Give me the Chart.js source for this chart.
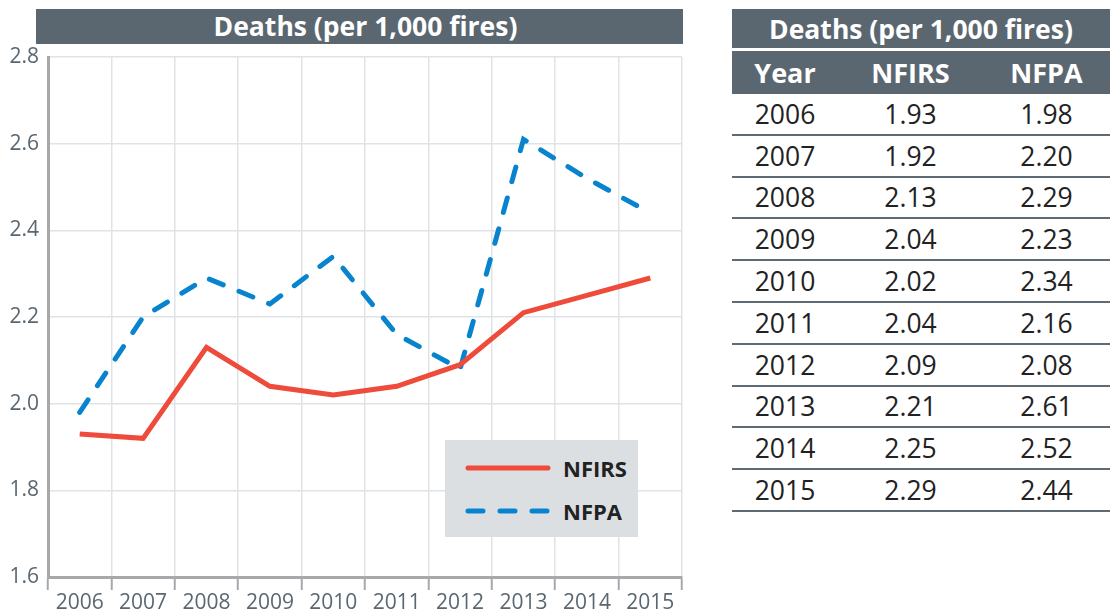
<!DOCTYPE html>
<html>
<head>
<meta charset="utf-8">
<script src="https://cdn.jsdelivr.net/npm/chart.js@4"></script>
<style>
  body { margin: 0; background: #fff; font-family: "Open Sans", sans-serif; }
  #wrap { position: relative; width: 1110px; height: 613px; overflow: hidden; }
  #chart { position: absolute; left: 0; top: 0; }
  .bar { position: absolute; background: #5b6770; color: #fff; font-weight: bold; text-align: center; box-sizing: border-box; }
  #chartTitle { left: 36px; top: 9px; width: 647px; height: 35px; line-height: 35px; font-size: 26.5px; padding-left: 12px; }
  #legend { position: absolute; left: 445px; top: 440px; width: 193px; height: 97px; background: #dcdfe2; }
  #legend .item { position: absolute; left: 18px; height: 26px; display: flex; align-items: center;
    font-weight: bold; font-size: 22px; color: #222; }
  #legend svg { margin-right: 10px; }
  #tbl { position: absolute; left: 732px; top: 9px; width: 378px; border-collapse: collapse; }
  #tbl td { padding: 0; text-align: center; font-size: 26.5px; color: #222; }
  #tbl tr.t td { background: #5b6770; color: #fff; font-weight: bold; height: 39px; border-bottom: 3px solid #fff; }
  #tbl tr.h td { background: #5b6770; color: #fff; font-weight: bold; height: 43px; font-size: 27px; }
  #tbl tr.d td { height: 39.8px; border-bottom: 2.6px solid #5f6b74; }
</style>
</head>
<body>
<div id="wrap">
  <div id="chartTitle" class="bar">Deaths (per 1,000 fires)</div>
  <canvas id="chart" width="700" height="613"></canvas>
  <div id="legend"></div>
  <table id="tbl"></table>
</div>
<script>
const years = ['2006', '2007', '2008', '2009', '2010', '2011', '2012', '2013', '2014', '2015'];
const nfirs = [1.93, 1.92, 2.13, 2.04, 2.02, 2.04, 2.09, 2.21, 2.25, 2.29];
const nfpa = [1.98, 2.20, 2.29, 2.23, 2.34, 2.16, 2.08, 2.61, 2.52, 2.44];
const tableTitle = 'Deaths (per 1,000 fires)';
const tableHeads = ['Year', 'NFIRS', 'NFPA'];

const red = '#ee4b3b';
const blue = '#0884cf';
const gray = '#5b6770';

// table
const tbl = document.getElementById('tbl');
let html = '<colgroup><col style="width:106px"><col style="width:145px"><col style="width:127px"></colgroup>';
html += '<tr class="t"><td colspan="3">' + tableTitle + '</td></tr>';
html += '<tr class="h">' + tableHeads.map(h => '<td>' + h + '</td>').join('') + '</tr>';
years.forEach((y, i) => {
  html += '<tr class="d"><td>' + y + '</td><td>' + nfirs[i].toFixed(2) + '</td><td>' + nfpa[i].toFixed(2) + '</td></tr>';
});
tbl.innerHTML = html;

// legend
const legendItems = [
  { label: 'NFIRS', color: red, dash: null, top: 15 },
  { label: 'NFPA', color: blue, dash: '15 17', top: 58 }
];
document.getElementById('legend').innerHTML = legendItems.map(it =>
  '<div class="item" style="top:' + it.top + 'px">' +
  '<svg width="90" height="10"><line x1="5" y1="5" x2="85" y2="5" stroke="' + it.color + '" stroke-width="5" stroke-linecap="round"' +
  (it.dash ? ' stroke-dasharray="' + it.dash + '"' : '') + '/></svg>' + it.label + '</div>'
).join('');

new Chart(document.getElementById('chart'), {
  type: 'line',
  data: {
    labels: years,
    datasets: [
      { label: 'NFIRS', data: nfirs, borderColor: red, borderWidth: 5, pointRadius: 0, tension: 0 },
      { label: 'NFPA', data: nfpa, borderColor: blue, borderWidth: 5, pointRadius: 0, tension: 0,
        borderDash: [15, 17], borderCapStyle: 'round' }
    ]
  },
  options: {
    responsive: false,
    animation: false,
    layout: { padding: { top: 57, right: 18, left: 0, bottom: 0 } },
    plugins: { legend: { display: false }, tooltip: { enabled: false } },
    scales: {
      x: {
        offset: true,
        grid: { offset: true, color: '#dfe3e6', lineWidth: 1.5, tickColor: '#a6a8ab', tickLength: 13, tickWidth: 2 },
        border: { color: '#a6a8ab', width: 3 },
        ticks: { color: gray, font: { family: 'Open Sans', size: 21 }, padding: 0, maxRotation: 0 },
        afterFit: s => { s.height = 36; }
      },
      y: {
        min: 1.6, max: 2.8,
        grid: { color: '#dfe3e6', lineWidth: 1.5, drawTicks: false },
        border: { color: '#a6a8ab', width: 3 },
        ticks: { stepSize: 0.2, color: gray, font: { family: 'Open Sans', size: 21 }, padding: 9,
          callback: v => v.toFixed(1) },
        afterFit: s => { s.width = 48; }
      }
    }
  }
});
</script>
</body>
</html>
